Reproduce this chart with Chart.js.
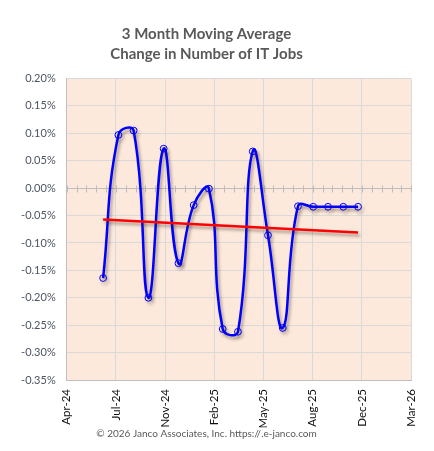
<!DOCTYPE html>
<html>
<head>
<meta charset="utf-8">
<script src="https://cdn.jsdelivr.net/npm/chart.js@4.4.1/dist/chart.umd.min.js"></script>
<style>
  html, body { margin: 0; padding: 0; background: #fff; }
  #wrap { width: 434px; height: 451px; }
</style>
</head>
<body>
<div id="wrap"><canvas id="jobsChart"></canvas></div>
<script>
// monthly points, 3 month moving average (% change)
const months = ['2024-07-01', '2024-08-01', '2024-09-01', '2024-10-01', '2024-11-01', '2024-12-01',
    '2025-01-01', '2025-02-01', '2025-03-01', '2025-04-01', '2025-05-01', '2025-06-01',
    '2025-07-01', '2025-08-01', '2025-09-01', '2025-10-01', '2025-11-01', '2025-12-01'];
const movingAvg = [-0.164, 0.097, 0.105, -0.200, 0.072, -0.137,
    -0.031, -0.001, -0.257, -0.262, 0.067, -0.086,
    -0.255, -0.033, -0.034, -0.034, -0.034, -0.034];

// linear trendline ends
const trendDates = ['2024-07-01', '2025-12-01'];
const trendValues = [-0.057, -0.081];

// x axis: starts 2024-04-18, a tick every 100 days
const axisStart = '2024-04-18';
const tickLabels = ['Apr-24', 'Jul-24', 'Nov-24', 'Feb-25', 'May-25', 'Aug-25', 'Dec-25', 'Mar-26'];
const yMin = -0.35, yMax = 0.20, yStep = 0.05;

const textColor = '#4d5563';
const gridColor = '#d9d9d9';

function dayNum(s) { return Date.parse(s + 'T00:00:00Z') / 86400000; }

const xMin = dayNum(axisStart);
const xMax = xMin + (tickLabels.length - 1) * 100;

const bgPlugin = {
    id: 'plotBg',
    beforeDraw(chart) {
        const { ctx, chartArea: a } = chart;
        ctx.save();
        ctx.fillStyle = '#fff';
        ctx.fillRect(0, 0, chart.width, chart.height);
        ctx.fillStyle = '#fce9db';
        ctx.fillRect(a.left, a.top, a.right - a.left, a.bottom - a.top);
        ctx.restore();
    }
};

// axis line through zero with small cross ticks
const zeroAxisPlugin = {
    id: 'zeroAxis',
    beforeDatasetsDraw(chart) {
        const { ctx, chartArea: a, scales } = chart;
        const y0 = Math.round(scales.y.getPixelForValue(0)) + 0.5;
        ctx.save();
        ctx.strokeStyle = '#bcbcbc';
        ctx.lineWidth = 1;
        ctx.beginPath();
        ctx.moveTo(a.left, y0);
        ctx.lineTo(a.right, y0);
        for (let d = xMin; d <= xMax; d += 20) {
            const px = Math.round(scales.x.getPixelForValue(d)) + 0.5;
            ctx.moveTo(px, y0 - 3);
            ctx.lineTo(px, y0 + 4);
        }
        ctx.stroke();
        ctx.restore();
    }
};

const shadowPlugin = {
    id: 'lineShadow',
    beforeDatasetDraw(chart) {
        const ctx = chart.ctx;
        ctx.save();
        ctx.shadowColor = 'rgba(60,40,30,0.4)';
        ctx.shadowBlur = 3;
        ctx.shadowOffsetX = 2;
        ctx.shadowOffsetY = 3;
    },
    afterDatasetDraw(chart) {
        chart.ctx.restore();
    }
};

const ctx = document.getElementById('jobsChart').getContext('2d');

new Chart(ctx, {
    type: 'line',
    data: {
        datasets: [{
            label: 'Trend',
            data: trendDates.map((d, i) => ({ x: dayNum(d), y: trendValues[i] })),
            borderColor: '#ff0000',
            borderWidth: 2.5,
            pointRadius: 0,
            tension: 0,
            order: 0
        }, {
            label: '3 Month Moving Average',
            data: months.map((d, i) => ({ x: dayNum(d), y: movingAvg[i] })),
            borderColor: '#0000ff',
            borderWidth: 2.5,
            pointRadius: 3.4,
            pointBorderWidth: 1,
            pointBorderColor: '#0000ff',
            pointBackgroundColor: 'rgba(0,0,0,0)',
            tension: 0.45,
            order: 1
        }]
    },
    options: {
        responsive: true,
        maintainAspectRatio: false,
        animation: false,
        layout: { padding: { left: 0, right: 21, top: 0, bottom: 0 } },
        plugins: {
            legend: { display: false },
            tooltip: { enabled: false },
            title: {
                display: true,
                text: ['3 Month Moving Average', 'Change in Number of IT Jobs'],
                color: '#595959',
                font: { family: 'Lato', size: 15, weight: 'bold', lineHeight: 1.33 },
                padding: { top: 24, bottom: 14.6 }
            },
            subtitle: {
                display: true,
                position: 'bottom',
                text: '\u00a9 2026 Janco Associates, Inc. https://.e-janco.com',
                color: '#595959',
                font: { family: 'Lato', size: 10, lineHeight: 1.2 },
                padding: { top: 0, bottom: 11.5 }
            }
        },
        scales: {
            x: {
                type: 'linear',
                min: xMin,
                max: xMax,
                afterFit(scale) { scale.height = 47.5; },
                grid: { color: gridColor, drawTicks: false },
                border: { color: '#bfbfbf' },
                ticks: {
                    stepSize: 100,
                    autoSkip: false,
                    maxRotation: 90,
                    minRotation: 90,
                    padding: 9,
                    color: '#111',
                    font: { family: 'Lato', size: 11.5 },
                    callback: (v, i) => tickLabels[i]
                }
            },
            y: {
                min: yMin,
                max: yMax,
                afterFit(scale) { scale.width = 66.7; },
                grid: { color: gridColor, drawTicks: false },
                border: { color: '#bfbfbf' },
                ticks: {
                    stepSize: yStep,
                    padding: 11,
                    color: textColor,
                    font: { family: 'Lato', size: 11 },
                    callback: v => (Math.abs(v) < 1e-9 ? 0 : v).toFixed(2) + '%'
                }
            }
        }
    },
    plugins: [bgPlugin, zeroAxisPlugin, shadowPlugin]
});
</script>
</body>
</html>
